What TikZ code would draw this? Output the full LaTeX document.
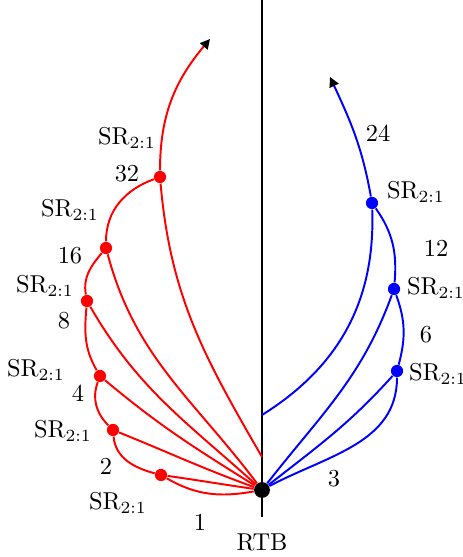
\documentclass[tikz,border=0pt]{standalone}
\usepackage{amsmath}
\usetikzlibrary{positioning, arrows.meta}

\begin{document}
\begin{tikzpicture}[scale=0.72]
  \tikzset{
    axisline/.style={draw=black, thick},
    rline/.style={red, thick},
    bline/.style={blue, thick},
    rdot/.style={circle, fill=red, inner sep=0pt, minimum size=5pt},
    bdot/.style={circle, fill=blue, inner sep=0pt, minimum size=5pt},
    kdot/.style={circle, fill=black, inner sep=0pt, minimum size=6.5pt},
    arrowtip/.style={-{Triangle[black, length=4pt, width=4pt]}},
  }
  \def\SR{$\mathrm{SR}_{2:1}$}
  \useasboundingbox (-5.24,-1.34) rectangle (4.02,9.8);
  %% vertical axis and RTB
  \coordinate (top) at (0,9.8);
  \coordinate (bot) at (0,-0.54);
  \draw[axisline] (top) -- (bot);
  \node[kdot] (rtb) at (0,0) {};
  \node (rtblab) at (0,-1.04) {RTB};
  %% red side
  \node[rdot] (r1) at (-2.02,0.30) {};
  \node[rdot] (r2) at (-2.98,1.20) {};
  \node[rdot] (r3) at (-3.24,2.28) {};
  \node[rdot] (r4) at (-3.50,3.78) {};
  \node[rdot] (r5) at (-3.12,4.84) {};
  \node[rdot] (r6) at (-2.04,6.26) {};
  \coordinate (rtip) at (-1.04,9.02);
  \coordinate (rend) at (0,0.66);
  \draw[rline] (rtb) to[out=190, in=-30] (r1) to[out=165, in=-85] (r2)
    to[out=135, in=-110] (r3) to[out=120, in=-95] (r4)
    to[out=100, in=-130] (r5) to[out=90, in=-160] (r6);
  \draw[rline, arrowtip] (r6) to[out=90, in=-130] (rtip);
  \draw[rline] (r1) to[out=-8, in=172] (rtb);
  \draw[rline] (r2) to[out=-22, in=160] (rtb);
  \draw[rline] (r3) to[out=-40, in=148] (rtb);
  \draw[rline] (r4) to[out=-60, in=138] (rtb);
  \draw[rline] (r5) to[out=-75, in=127] (rtb);
  \draw[rline] (r6) to[out=-85, in=120] (rend);
  \node (l1) at (-1.24,-0.64) {1};
  \node (s1) at (-2.88,-0.26) {\SR};
  \node (l2) at (-3.12,0.48) {2};
  \node (s2) at (-3.98,1.18) {\SR};
  \node (l4) at (-3.68,1.94) {4};
  \node (s3) at (-4.52,2.40) {\SR};
  \node (l8) at (-3.96,3.38) {8};
  \node (s4) at (-4.34,4.08) {\SR};
  \node (l16) at (-3.84,4.68) {16};
  \node (s5) at (-3.84,5.60) {\SR};
  \node (l32) at (-2.70,6.32) {32};
  \node (s6) at (-2.70,7.04) {\SR};
  %% blue side
  \node[bdot] (b1) at (2.70,2.38) {};
  \node[bdot] (b2) at (2.64,4.02) {};
  \node[bdot] (b3) at (2.20,5.74) {};
  \coordinate (btip) at (1.36,8.26);
  \coordinate (bend) at (0,1.50);
  \draw[bline] (rtb) to[out=28, in=-90] (b1) to[out=75, in=-70] (b2)
    to[out=85, in=-55] (b3);
  \draw[bline, arrowtip] (b3) to[out=100, in=-65] (btip);
  \draw[bline] (b1) to[out=-132, in=38] (rtb);
  \draw[bline] (b2) to[out=-110, in=52] (rtb);
  \draw[bline] (b3) to[out=-88, in=32] (bend);
  \node (l3) at (1.44,0.22) {3};
  \node (t1) at (3.52,2.32) {\SR};
  \node (l6) at (3.28,3.10) {6};
  \node (t2) at (3.48,4.04) {\SR};
  \node (l12) at (3.48,4.84) {12};
  \node (t3) at (3.08,5.96) {\SR};
  \node (l24) at (2.32,7.14) {24};
\end{tikzpicture}
\end{document}
